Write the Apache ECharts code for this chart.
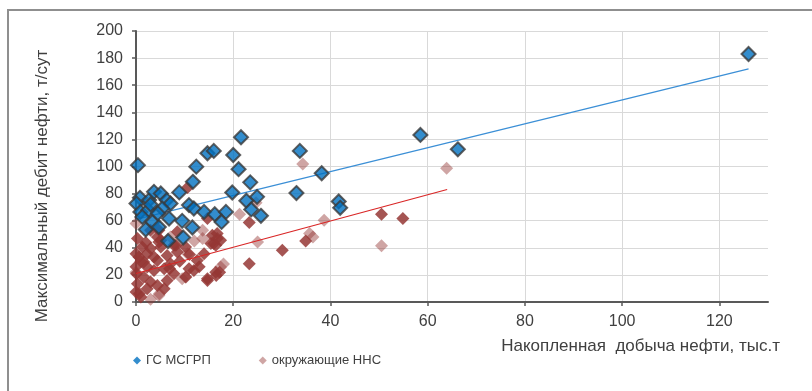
<!DOCTYPE html>
<html>
<head>
<meta charset="utf-8">
<script src="https://cdn.jsdelivr.net/npm/echarts@6/dist/echarts.min.js"></script>
<style>
  html, body { margin: 0; padding: 0; background: #fff; }
  #wrap { position: relative; width: 812px; height: 391px; overflow: hidden; }
  #frame { position: absolute; left: 7px; top: 9px; width: 900px; height: 500px;
           border-left: 2px solid #8f8f8f; border-top: 2px solid #8f8f8f; }
  #main { position: absolute; left: 0; top: 0; width: 812px; height: 391px; }
</style>
</head>
<body>
<div id="wrap">
  <div id="frame"></div>
  <div id="main"></div>
</div>
<script>
// Максимальный дебит vs накопленная добыча
var xTicks = [0, 20, 40, 60, 80, 100, 120];
var yTicks = [0, 20, 40, 60, 80, 100, 120, 140, 160, 180, 200];

// ГС МСГРП  [накопленная добыча, тыс.т ; дебит, т/сут]
var gsPoints = [
    [0.4, 101], [0.8, 76.9], [0.1, 72.7], [2.7, 75.2], [3.7, 81.3], [5.1, 80.1],
    [6.3, 75.2], [7.1, 72.7], [0.9, 66.5], [2.5, 67.8], [5.4, 69], [1.3, 62.8],
    [3.4, 59.1], [6.8, 61.6], [9.5, 59.9], [4.7, 55.4], [2.0, 53.5], [11.6, 55],
    [9.7, 47.6], [6.6, 45], [8.9, 80.9], [10.9, 71.5], [11.9, 69], [14.0, 66.5],
    [16.2, 64.8], [18.5, 66.5], [17.6, 59.1], [11.7, 88.7], [12.4, 99.9],
    [14.7, 109.8], [16.0, 111.5], [19.8, 80.8], [20.0, 108.5], [21.6, 121.6],
    [21.1, 98], [23.5, 88.3], [22.7, 74.7], [24.9, 77.6], [23.7, 68.3], [25.7, 63.6],
    [33.7, 111.5], [38.2, 95], [33.0, 80.4], [41.7, 74.2], [42.0, 69.5],
    [58.5, 123.3], [66.2, 112.7], [126, 183], [3.0, 72.0], [4.5, 65.5]
];

// окружающие ННС (насыщенные)
var nnsDark = [
    [10.6, 84.5], [14.7, 61.6], [23.3, 58.6], [23.3, 28.3], [30.1, 38.1], [34.9, 45],
    [50.5, 64.8], [54.9, 61.6], [3.0, 53], [4.7, 53], [5.1, 45.6], [8.5, 51.8],
    [15.7, 49.3], [16.7, 46.8], [16.7, 50.5], [17.4, 45.6], [16.0, 43.1], [10.2, 40.6],
    [8.2, 41.9], [14.0, 35.7], [16.4, 41.9], [12.6, 30.7], [16.4, 22], [14.7, 17.2],
    [10.9, 24.6], [10.2, 18.4], [11.9, 23.3], [5.8, 9.8], [1.0, 3.6], [0.0, 7.3],
    [0.3, 13.5], [0.1, 20.9], [0.0, 26], [1.6, 29.5], [4.4, 30.7], [6.4, 34.4],
    [5.1, 40.6], [3.0, 39.4], [4.4, 48], [4.7, 44.3], [7.8, 41.9], [8.5, 36.9],
    [2.3, 25.8], [3.7, 23.3], [5.8, 24.6], [7.1, 28.3], [7.8, 20.9], [6.4, 15.9],
    [3.0, 14.7], [1.6, 18.4], [2.3, 9.8], [4.4, 12.2], [0.6, 33.2], [0.0, 35.7],
    [1.3, 40.6], [2.3, 35.7], [3.7, 33.2], [0.3, 46.8], [15.4, 43.1], [0.7, 6.1],
    [6.9, 24.6], [17.2, 22], [16.5, 19.6], [14.7, 15.9], [9.0, 30], [11.0, 35],
    [13.0, 26], [2.0, 44], [1.0, 30]
];
// окружающие ННС (светлые)
var nnsLight = [
    [34.3, 101.9], [63.9, 98.7], [21.3, 64.8], [25.0, 44.3], [35.7, 50.5], [36.4, 48],
    [38.7, 60.4], [50.5, 41.6], [24.7, 73.2], [0.0, 58], [13.7, 53], [13.7, 46.8],
    [10.6, 35.7], [17.4, 25.8], [9.5, 17.2], [4.7, 4.8], [4.8, 6.1], [10.3, 18.4],
    [7.1, 48], [0.0, 22], [12.0, 45], [18.0, 28], [3.0, 2]
];

// линии тренда
var gsTrend = [[0, 61], [126, 172]];
var nnsTrend = [[0, 21], [64, 83]];

var chart = echarts.init(document.getElementById('main'));
var font = 'Liberation Sans, Arial, sans-serif';

var option = {
    animation: false,
    textStyle: { fontFamily: font },
    grid: { left: 136, top: 31, right: 44, bottom: 89 },
    legend: {
        data: ['ГС МСГРП', 'окружающие ННС'],
        left: 128,
        top: 349,
        icon: 'diamond',
        itemWidth: 8,
        itemHeight: 8,
        itemGap: 48,
        itemStyle: { borderWidth: 0 },
        textStyle: { fontSize: 13, color: '#404040', fontFamily: font }
    },
    xAxis: {
        type: 'value',
        min: 0,
        max: 130,
        interval: 20,
        axisLine: { show: true, lineStyle: { color: '#595959', width: 2 } },
        axisTick: { show: true, length: 4, lineStyle: { color: '#595959', width: 1.5 } },
        axisLabel: {
            margin: 12, fontSize: 16, color: '#404040', showMaxLabel: false,
            formatter: function (v) { return xTicks.indexOf(v) >= 0 ? String(v) : ''; }
        },
        splitLine: { show: true, showMaxLine: false, lineStyle: { color: '#d9d9d9', width: 1 } }
    },
    yAxis: {
        type: 'value',
        min: 0,
        max: 200,
        interval: 20,
        axisLine: { show: true, lineStyle: { color: '#595959', width: 2 } },
        axisTick: { show: true, length: 4, lineStyle: { color: '#595959', width: 1.5 } },
        axisLabel: {
            margin: 13, fontSize: 16, color: '#404040',
            formatter: function (v) { return yTicks.indexOf(v) >= 0 ? String(v) : ''; }
        },
        splitLine: { show: true, lineStyle: { color: '#d9d9d9', width: 1 } }
    },
    graphic: [
        {
            type: 'text', x: 42, y: 186, rotation: Math.PI / 2,
            style: {
                text: 'Максимальный дебит нефти, т/сут', fontSize: 17, fill: '#404040',
                fontFamily: font, align: 'center', verticalAlign: 'middle'
            }
        },
        {
            type: 'text', x: 780, y: 346,
            style: {
                text: 'Накопленная  добыча нефти, тыс.т', fontSize: 17, fill: '#404040',
                fontFamily: font, align: 'right', verticalAlign: 'middle'
            }
        }
    ],
    series: [
        {
            name: 'окружающие ННС', type: 'scatter', symbol: 'diamond', symbolSize: 13,
            itemStyle: { color: '#953735', opacity: 0.45 },
            data: nnsLight, z: 2
        },
        {
            name: 'окружающие ННС', type: 'scatter', symbol: 'diamond', symbolSize: 13,
            itemStyle: { color: '#953735', opacity: 0.85 },
            data: nnsDark, z: 2
        },
        {
            name: 'тренд ННС', type: 'line', data: nnsTrend, showSymbol: false, silent: true,
            lineStyle: { color: '#d92626', width: 1.2 }, z: 3
        },
        {
            name: 'тренд ГС', type: 'line', data: gsTrend, showSymbol: false, silent: true,
            lineStyle: { color: '#3b8fd6', width: 1.2 }, z: 3
        },
        {
            name: 'ГС МСГРП', type: 'scatter', symbol: 'diamond', symbolSize: 14,
            itemStyle: { color: '#0070c0', borderColor: '#3a3a3a', borderWidth: 2 },
            data: gsPoints, z: 4
        }
    ]
};

chart.setOption(option);
</script>
</body>
</html>
